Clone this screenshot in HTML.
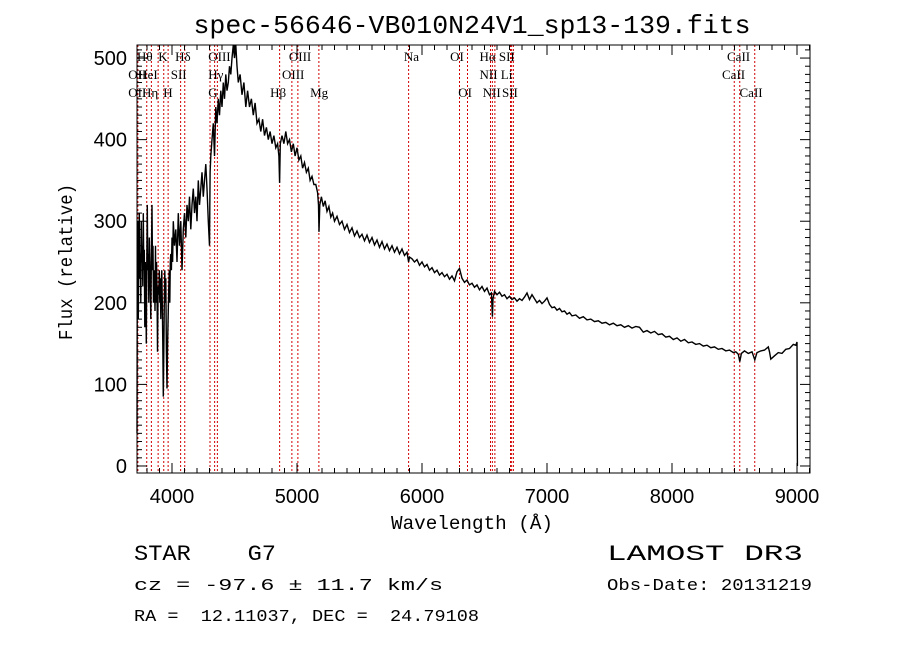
<!DOCTYPE html>
<html><head><meta charset="utf-8"><style>
body{margin:0;background:#fff}
svg{display:block}
text{fill:#000}
</style></head><body>
<svg id="chart" width="900" height="649" viewBox="0 0 900 649" xmlns="http://www.w3.org/2000/svg">
<rect width="900" height="649" fill="#fff"/>
<text x="472" y="33" text-anchor="middle" font-family="Liberation Mono, monospace" font-size="26" textLength="557" lengthAdjust="spacingAndGlyphs">spec-56646-VB010N24V1_sp13-139.fits</text>
<g id="lines"></g>
<g id="labels" font-family="Liberation Serif, serif" font-size="13"></g>
<path id="spec" fill="none" stroke="#000" stroke-width="1.4"/>
<rect x="137" y="45" width="673" height="428" fill="none" stroke="#000" stroke-width="1"/>
<g id="ticks" stroke="#000" stroke-width="1"></g>
<g id="ticklabels" font-family="Liberation Sans, sans-serif" font-size="20"></g>
<text x="472" y="529" text-anchor="middle" font-family="Liberation Mono, monospace" font-size="19" textLength="162" lengthAdjust="spacingAndGlyphs">Wavelength (Å)</text>
<text transform="translate(72,262) rotate(-90)" text-anchor="middle" font-family="Liberation Mono, monospace" font-size="19" textLength="156" lengthAdjust="spacingAndGlyphs">Flux (relative)</text>
<text x="134" y="560" font-family="Liberation Mono, monospace" font-size="22" style="white-space:pre" textLength="142" lengthAdjust="spacingAndGlyphs">STAR    G7</text>
<text x="607" y="560" font-family="Liberation Mono, monospace" font-size="22" style="white-space:pre" textLength="196" lengthAdjust="spacingAndGlyphs">LAMOST DR3</text>
<text x="134" y="590" font-family="Liberation Mono, monospace" font-size="17" style="white-space:pre" textLength="309" lengthAdjust="spacingAndGlyphs">cz = -97.6 ± 11.7 km/s</text>
<text x="607" y="590" font-family="Liberation Mono, monospace" font-size="17" textLength="205" lengthAdjust="spacingAndGlyphs">Obs-Date: 20131219</text>
<text x="134" y="621" font-family="Liberation Mono, monospace" font-size="17" style="white-space:pre" textLength="345" lengthAdjust="spacingAndGlyphs">RA =  12.11037, DEC =  24.79108</text>
</svg>
<script>
const wavelengths = [
3720,3722,3726,3730,3734,3738,3742,3746,3750,3754,
3758,3762,3766,3770,3774,3778,3782,3786,3790,3794,
3798,3802,3806,3810,3814,3818,3822,3826,3830,3835,
3840,3844,3848,3852,3856,3860,3864,3868,3872,3876,
3880,3884,3889,3894,3898,3902,3906,3910,3914,3918,
3922,3926,3930,3934,3938,3942,3946,3950,3955,3960,
3965,3969,3974,3978,3982,3986,3990,3995,4000,4005,
4010,4020,4030,4040,4050,4060,4070,4080,4090,4100,
4110,4120,4130,4140,4150,4160,4170,4180,4190,4200,
4210,4220,4230,4240,4250,4260,4270,4280,4290,4300,
4305,4310,4320,4330,4340,4350,4360,4370,4380,4390,
4400,4410,4420,4430,4440,4450,4460,4470,4480,4490,
4500,4510,4520,4530,4545,4560,4575,4590,4605,4620,
4635,4650,4665,4680,4695,4710,4725,4740,4755,4770,
4785,4800,4815,4830,4845,4855,4861,4866,4880,4895,
4910,4925,4940,4955,4970,4985,5000,5015,5030,5045,
5060,5075,5090,5105,5120,5135,5150,5165,5172,5176,
5182,5195,5210,5225,5240,5255,5270,5285,5300,5320,
5340,5360,5380,5400,5420,5440,5460,5480,5500,5520,
5540,5560,5580,5600,5620,5640,5660,5680,5700,5720,
5740,5760,5780,5800,5820,5840,5860,5880,5893,5900,
5920,5940,5960,5980,6000,6020,6040,6060,6080,6100,
6120,6140,6160,6180,6200,6220,6240,6260,6280,6300,
6320,6340,6360,6380,6400,6420,6440,6460,6480,6500,
6520,6540,6555,6563,6568,6580,6600,6620,6640,6660,
6680,6700,6720,6740,6760,6780,6800,6820,6840,6860,
6880,6900,6920,6940,6960,6980,7000,7020,7040,7060,
7080,7100,7120,7140,7160,7180,7200,7230,7260,7290,
7320,7350,7380,7410,7440,7470,7500,7530,7560,7590,
7620,7650,7680,7710,7740,7770,7800,7830,7860,7890,
7920,7950,7980,8010,8040,8070,8100,8130,8160,8190,
8220,8250,8280,8310,8340,8370,8400,8430,8460,8490,
8510,8530,8542,8555,8580,8610,8640,8662,8680,8710,
8740,8770,8780,8790,8820,8850,8880,8910,8940,8970,
8990,9000,9003];
const fluxValues = [
40,250,300,180,270,310,230,260,200,300,
250,270,220,310,240,265,170,250,230,150,
250,320,240,260,200,280,250,220,180,260,
320,240,270,200,240,230,190,270,200,250,
220,140,220,210,240,200,230,180,220,240,
200,150,85,140,200,240,200,230,140,95,
150,180,220,240,200,250,260,240,280,250,
300,270,290,250,310,270,300,240,290,310,
280,320,300,330,290,320,340,310,330,300,
350,320,340,360,330,350,370,340,300,270,
360,380,400,420,380,440,420,450,430,460,
440,470,450,480,460,470,490,480,500,520,
500,530,490,470,480,455,470,440,460,440,
450,430,445,420,425,410,425,405,415,400,
410,395,405,390,395,380,347,395,405,395,
410,395,400,385,395,380,390,375,380,365,
372,360,365,350,355,345,345,335,320,287,
320,330,318,325,312,318,305,310,300,306,
296,300,290,296,286,292,282,288,280,284,
276,283,274,280,271,277,268,275,266,272,
264,270,262,268,260,266,258,262,250,256,
254,250,253,246,250,244,247,240,243,237,
240,234,237,232,235,229,233,227,238,242,
230,225,228,222,224,219,222,216,220,214,
218,210,212,183,205,214,210,213,208,210,
205,208,204,206,202,205,203,207,212,204,
210,205,200,203,199,202,206,198,194,195,
191,193,189,190,186,188,184,185,181,183,
179,180,177,178,175,176,173,175,172,173,
170,172,169,171,170,164,166,163,165,161,
162,158,159,155,157,153,155,151,152,149,
150,147,148,145,146,143,144,141,142,139,
140,137,128,138,141,138,140,130,139,141,
142,146,140,131,135,139,138,143,144,149,
148,152,0];
const xTicks = [4000,5000,6000,7000,8000,9000];
const yTicks = [0,100,200,300,400,500];
const lineWaves = [3727,3798,3835,3889,3934,3969,4069,4102,4304,4341,4363,4861,4959,5007,5175,5893,6300,6364,6548,6563,6583,6708,6717,6731,8498,8542,8662];
const labelTexts = ["Hθ","K","Hδ","OIII","OIII","OII","HeI","SII","Hγ","OIII","OII","Hη","H","G","Hβ","Mg","Na","OI","Hα","SII","CaII","NII","Li","CaII","OI","NII","SII","CaII"];
const labelWaves = [3720,3890,4025,4290,4935,3650,3730,3990,4290,4880,3650,3760,3930,4290,4785,5105,5855,6225,6460,6615,8440,6460,6630,8400,6290,6485,6640,8540];
const labelRows = [0,0,0,0,0,1,1,1,1,1,2,2,2,2,2,2,0,0,0,0,0,1,1,1,2,2,2,2];

const X0=137,X1=810,WMIN=3720,WMAX=9104;
const sx = w => X0 + (w-WMIN)/(WMAX-WMIN)*(X1-X0);
const YB=473,YT=45,FMIN=-8.6,FMAX=516;
const sy = f => YB - (f-FMIN)/(FMAX-FMIN)*(YB-YT);
const NS='http://www.w3.org/2000/svg';
function mk(tag,attrs,parent){const e=document.createElementNS(NS,tag);for(const k in attrs)e.setAttribute(k,attrs[k]);parent.appendChild(e);return e;}

const gl=document.getElementById('lines');
lineWaves.forEach(w=>{
  const l=mk('line',{x1:sx(w),x2:sx(w),y1:YT,y2:YB,stroke:'#d00000','stroke-width':1,'stroke-dasharray':'2,2'},gl);
  
  
});
const glab=document.getElementById('labels');
labelTexts.forEach((t,i)=>{
  const e=mk('text',{x:sx(labelWaves[i]),y:61+labelRows[i]*18},glab);
  e.textContent=t;
  
  
});
let d='';
const n=Math.min(wavelengths.length,fluxValues.length);
for(let i=0;i<n;i++){const y=Math.max(YT,Math.min(YB,sy(fluxValues[i])));d+=(i?'L':'M')+sx(wavelengths[i]).toFixed(1)+','+y.toFixed(1);}
document.getElementById('spec').setAttribute('d',d);

const gt=document.getElementById('ticks');
for(let w=3800;w<=9100;w+=100){
  const major=w%1000===0,len=major?10:5,x=sx(w);
  mk('line',{x1:x,x2:x,y1:YB,y2:YB-len},gt);
  mk('line',{x1:x,x2:x,y1:YT,y2:YT+len},gt);
}
for(let f=0;f<=510;f+=10){
  const major=f%100===0,len=major?10:5,y=sy(f);
  mk('line',{x1:X0,x2:X0+len,y1:y,y2:y},gt);
  mk('line',{x1:X1,x2:X1-len,y1:y,y2:y},gt);
}
const gtl=document.getElementById('ticklabels');
xTicks.forEach(w=>{
  const e=mk('text',{x:sx(w),y:503,'text-anchor':'middle'},gtl);
  e.textContent=w;
  
  
});
yTicks.forEach(f=>{
  const e=mk('text',{x:127,y:sy(f)+7,'text-anchor':'end'},gtl);
  e.textContent=f;
  
  
});
</script>
</body></html>
